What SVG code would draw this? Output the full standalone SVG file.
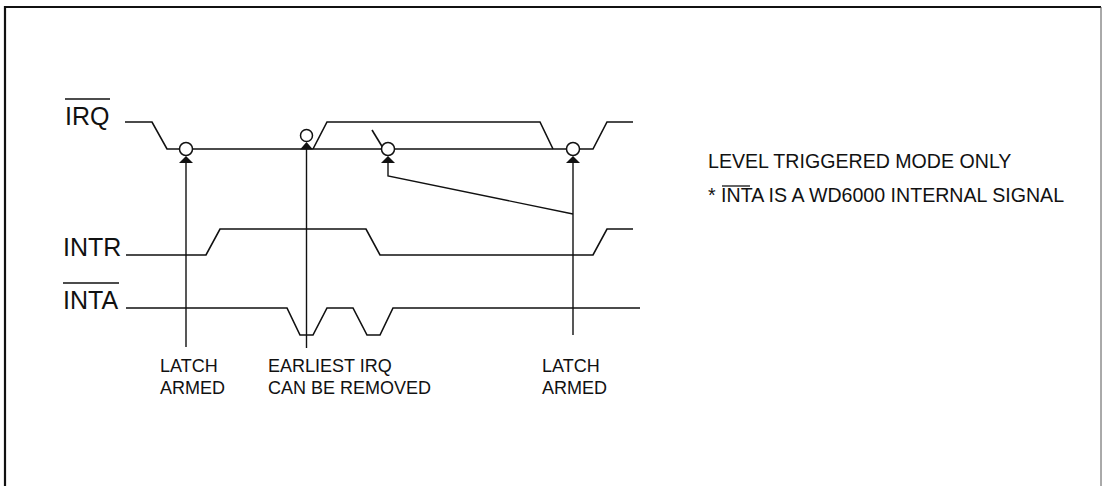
<svg xmlns="http://www.w3.org/2000/svg" width="1103" height="486" viewBox="0 0 1103 486">
<style>
.sig{fill:none;stroke:#111;stroke-width:1.6;stroke-linejoin:miter}
.con{fill:none;stroke:#111;stroke-width:1.4}
.circ{fill:#fff;stroke:#111;stroke-width:1.5}
.tri{fill:#111;stroke:none}
.big{font-family:"Liberation Sans",Arial,sans-serif;font-size:25px;fill:#111}
.lbl{font-family:"Liberation Sans",Arial,sans-serif;font-size:18px;fill:#111}
.note{font-family:"Liberation Sans",Arial,sans-serif;font-size:19.6px;fill:#111}
.ov{stroke:#111;stroke-width:1.6}
</style>
<rect width="1103" height="486" fill="#fff"/>
<g id="frame">
<path d="M5,486 V7 H1101" fill="none" stroke="#111" stroke-width="2.2"/>
<path d="M1101,7 V486" fill="none" stroke="#555" stroke-width="1"/>
</g>
<g id="irq">
<text class="big" x="65" y="125">IRQ</text>
<line class="ov" x1="65" y1="99" x2="110" y2="99"/>
<path class="sig" d="M125,122 H152 L167,149 H593 L607,122 H633"/>
<path class="sig" d="M313,149 L327,122 H540 L553,149"/>
<path class="sig" d="M372,130 L383,148"/>
</g>
<g id="intr">
<text class="big" x="63" y="256">INTR</text>
<path class="sig" d="M126,255 H206 L220,229 H366 L380,255 H593 L607,229 H633"/>
</g>
<g id="inta">
<text class="big" x="63" y="309">INTA</text>
<line class="ov" x1="63" y1="283" x2="119" y2="283"/>
<path class="sig" d="M126,308 H287 L300,335 H313 L327,308 H353 L367,335 H380 L393,308 H640"/>
</g>
<g id="connectors">
<path class="con" d="M186,163 V347"/>
<path class="con" d="M306.5,149 V348"/>
<path class="con" d="M388,163 V176 L573,214"/>
<path class="con" d="M573,163 V335"/>
</g>
<g id="markers">
<circle class="circ" cx="186" cy="149" r="6.5"/>
<path class="tri" d="M186,156 L179,163 H193 Z"/>
<circle class="circ" cx="306.5" cy="135.5" r="6"/>
<path class="tri" d="M306.5,142 L300,149.5 H313 Z"/>
<circle class="circ" cx="388" cy="149" r="6.5"/>
<path class="tri" d="M388,156 L381,163 H395 Z"/>
<circle class="circ" cx="573" cy="149" r="6.5"/>
<path class="tri" d="M573,156 L566,163 H580 Z"/>
</g>
<g id="label-latch1">
<text class="lbl" x="160" y="372">LATCH</text>
<text class="lbl" x="160" y="394">ARMED</text>
</g>
<g id="label-earliest">
<text class="lbl" x="268" y="372">EARLIEST IRQ</text>
<text class="lbl" x="268" y="394">CAN BE REMOVED</text>
</g>
<g id="label-latch2">
<text class="lbl" x="542" y="372">LATCH</text>
<text class="lbl" x="542" y="394">ARMED</text>
</g>
<g id="notes">
<text class="note" x="708" y="168">LEVEL TRIGGERED MODE ONLY</text>
<text class="note" x="708" y="202">* INTA IS A WD6000 INTERNAL SIGNAL</text>
<line x1="722" y1="186" x2="750" y2="186" stroke="#111" stroke-width="1.3"/>
</g>
</svg>
